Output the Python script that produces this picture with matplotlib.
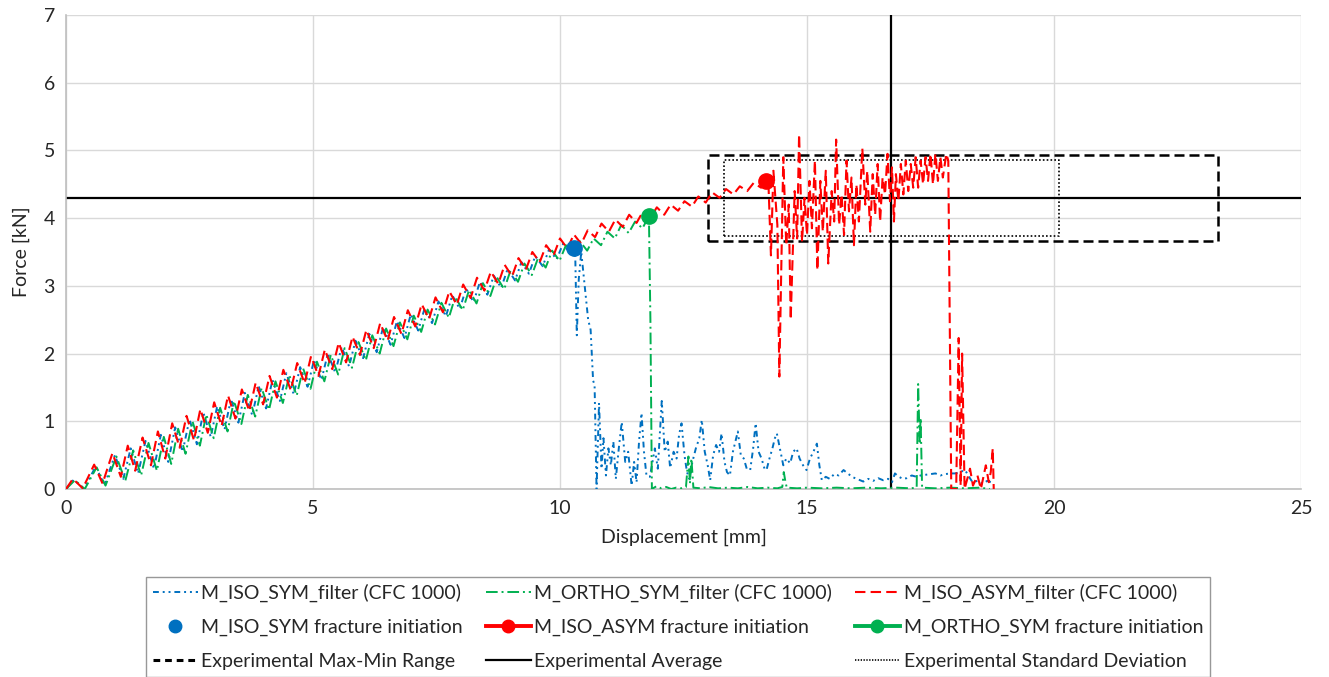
import matplotlib
matplotlib.use("Agg")
import matplotlib.pyplot as plt
import numpy as np

plt.rcParams['font.family'] = ['Lato', 'DejaVu Sans']

# filtered force-displacement traces (displacement mm, force kN)
iso_sym = [
    (0.00, 0.00), (0.16, 0.14), (0.36, 0.00), (0.60, 0.33), (0.78, 0.06), (0.99, 0.50),
    (1.16, 0.15), (1.31, 0.60), (1.46, 0.23), (1.61, 0.71), (1.78, 0.30), (1.92, 0.80),
    (2.07, 0.40), (2.21, 0.91), (2.36, 0.55), (2.50, 1.03), (2.65, 0.66), (2.78, 1.13),
    (2.93, 0.77), (3.06, 1.22), (3.21, 0.88), (3.34, 1.33), (3.49, 0.98), (3.62, 1.42),
    (3.77, 1.09), (3.90, 1.52), (4.05, 1.19), (4.18, 1.61), (4.33, 1.30), (4.46, 1.71),
    (4.61, 1.40), (4.74, 1.80), (4.89, 1.51), (5.02, 1.90), (5.17, 1.61), (5.30, 2.00),
    (5.45, 1.72), (5.58, 2.10), (5.73, 1.81), (5.86, 2.19), (6.01, 1.92), (6.14, 2.29),
    (6.29, 2.02), (6.42, 2.39), (6.57, 2.13), (6.70, 2.48), (6.85, 2.23), (6.98, 2.58),
    (7.13, 2.34), (7.26, 2.67), (7.41, 2.45), (7.54, 2.77), (7.69, 2.55), (7.82, 2.86),
    (7.97, 2.66), (8.10, 2.96), (8.25, 2.76), (8.38, 3.06), (8.53, 2.87), (8.66, 3.15),
    (8.81, 2.97), (8.94, 3.25), (9.09, 3.08), (9.22, 3.35), (9.37, 3.18), (9.50, 3.44),
    (9.65, 3.29), (9.78, 3.54), (9.93, 3.39), (10.06, 3.62), (10.21, 3.47), (10.28, 3.56),
    (10.31, 3.40), (10.34, 2.27), (10.38, 3.10), (10.43, 3.50), (10.50, 3.00), (10.57, 2.50),
    (10.62, 2.35), (10.67, 1.60), (10.70, 1.54), (10.74, 0.00), (10.79, 1.27), (10.84, 0.30),
    (10.88, 0.75), (10.93, 0.20), (10.98, 0.60), (11.03, 0.35), (11.08, 0.70), (11.13, 0.15),
    (11.19, 0.60), (11.25, 0.99), (11.32, 0.40), (11.38, 0.55), (11.45, 0.05), (11.50, 0.40),
    (11.55, 0.10), (11.60, 0.70), (11.65, 1.12), (11.70, 0.55), (11.75, 0.20), (11.82, 0.18),
    (11.92, 0.60), (11.98, 0.30), (12.06, 1.30), (12.12, 0.55), (12.18, 0.70), (12.23, 0.31),
    (12.30, 0.55), (12.36, 0.45), (12.41, 0.80), (12.46, 0.97), (12.52, 0.50), (12.57, 0.25),
    (12.62, 0.15), (12.68, 0.40), (12.75, 0.60), (12.82, 0.75), (12.87, 1.02), (12.93, 0.55),
    (12.99, 0.35), (13.04, 0.13), (13.10, 0.50), (13.16, 0.65), (13.22, 0.55), (13.27, 0.82),
    (13.33, 0.40), (13.38, 0.25), (13.44, 0.20), (13.50, 0.55), (13.55, 0.70), (13.60, 0.85),
    (13.66, 0.50), (13.72, 0.45), (13.78, 0.30), (13.85, 0.28), (13.91, 0.60), (13.96, 0.97),
    (14.02, 0.55), (14.08, 0.45), (14.14, 0.30), (14.18, 0.28), (14.24, 0.45), (14.30, 0.60),
    (14.35, 0.75), (14.39, 0.82), (14.45, 0.60), (14.52, 0.35), (14.58, 0.45), (14.66, 0.38),
    (14.72, 0.55), (14.79, 0.60), (14.85, 0.45), (14.92, 0.35), (14.99, 0.28), (15.06, 0.45),
    (15.13, 0.55), (15.20, 0.67), (15.25, 0.35), (15.30, 0.13), (15.38, 0.18), (15.46, 0.15),
    (15.55, 0.22), (15.64, 0.20), (15.74, 0.28), (15.84, 0.22), (15.94, 0.17), (16.04, 0.14),
    (16.14, 0.11), (16.24, 0.15), (16.34, 0.12), (16.44, 0.16), (16.54, 0.13), (16.64, 0.15),
    (16.72, 0.10), (16.78, 0.23), (16.86, 0.18), (16.94, 0.15), (17.02, 0.16), (17.12, 0.20),
    (17.22, 0.18), (17.30, 0.20), (17.40, 0.21), (17.50, 0.22), (17.60, 0.23), (17.70, 0.20),
    (17.80, 0.22), (17.90, 0.23), (18.00, 0.23), (18.10, 0.25), (18.20, 0.28), (18.28, 0.18),
    (18.35, 0.10), (18.45, 0.12), (18.55, 0.08), (18.65, 0.12), (18.72, 0.10),
]

ortho_sym = [
    (0.00, 0.00), (0.18, 0.13), (0.38, 0.00), (0.62, 0.32), (0.80, 0.05), (1.02, 0.48),
    (1.20, 0.12), (1.36, 0.57), (1.52, 0.20), (1.67, 0.68), (1.84, 0.27), (1.98, 0.77),
    (2.13, 0.37), (2.27, 0.89), (2.42, 0.52), (2.56, 1.00), (2.71, 0.64), (2.84, 1.10),
    (2.99, 0.75), (3.12, 1.20), (3.27, 0.85), (3.40, 1.30), (3.55, 0.96), (3.68, 1.39),
    (3.83, 1.07), (3.96, 1.49), (4.11, 1.17), (4.24, 1.59), (4.39, 1.27), (4.52, 1.68),
    (4.67, 1.38), (4.80, 1.78), (4.95, 1.48), (5.08, 1.88), (5.23, 1.59), (5.36, 1.98),
    (5.51, 1.69), (5.64, 2.08), (5.79, 1.79), (5.92, 2.17), (6.07, 1.90), (6.20, 2.27),
    (6.35, 2.00), (6.48, 2.37), (6.63, 2.11), (6.76, 2.46), (6.91, 2.21), (7.04, 2.56),
    (7.19, 2.32), (7.32, 2.65), (7.47, 2.43), (7.60, 2.75), (7.75, 2.53), (7.88, 2.84),
    (8.03, 2.64), (8.16, 2.94), (8.31, 2.74), (8.44, 3.04), (8.59, 2.85), (8.72, 3.13),
    (8.87, 2.95), (9.00, 3.23), (9.15, 3.06), (9.28, 3.33), (9.43, 3.16), (9.56, 3.42),
    (9.71, 3.27), (9.84, 3.52), (9.99, 3.37), (10.12, 3.60), (10.27, 3.45), (10.40, 3.66),
    (10.55, 3.52), (10.68, 3.70), (10.83, 3.60), (10.96, 3.80), (11.11, 3.70), (11.24, 3.90),
    (11.39, 3.78), (11.52, 3.95), (11.67, 3.85), (11.80, 4.03), (11.83, 2.50), (11.86, 0.00),
    (11.95, 0.04), (12.05, 0.01), (12.15, 0.03), (12.25, 0.00), (12.35, 0.02), (12.45, 0.01),
    (12.55, 0.03), (12.60, 0.48), (12.63, 0.08), (12.66, 0.45), (12.70, 0.02), (12.85, 0.01),
    (13.00, 0.03), (13.20, 0.01), (13.40, 0.02), (13.60, 0.01), (13.80, 0.03), (14.00, 0.01),
    (14.20, 0.02), (14.40, 0.01), (14.50, 0.03), (14.53, 0.25), (14.56, 0.12), (14.59, 0.02),
    (14.80, 0.01), (15.00, 0.02), (15.30, 0.01), (15.60, 0.02), (15.90, 0.01), (16.20, 0.02),
    (16.50, 0.01), (16.80, 0.02), (17.10, 0.01), (17.22, 0.02), (17.25, 1.55), (17.28, 0.70),
    (17.30, 1.05), (17.33, 0.02), (17.60, 0.01), (17.90, 0.02), (18.20, 0.01), (18.50, 0.02),
    (18.70, 0.00),
]

iso_asym = [
    (0.00, 0.00), (0.14, 0.15), (0.34, 0.01), (0.57, 0.36), (0.74, 0.08), (0.94, 0.53),
    (1.11, 0.18), (1.25, 0.64), (1.40, 0.27), (1.55, 0.76), (1.72, 0.35), (1.86, 0.85),
    (2.01, 0.45), (2.15, 0.97), (2.30, 0.61), (2.44, 1.08), (2.59, 0.72), (2.72, 1.18),
    (2.87, 0.83), (3.00, 1.28), (3.15, 0.93), (3.28, 1.38), (3.43, 1.04), (3.56, 1.47),
    (3.71, 1.15), (3.84, 1.57), (3.99, 1.25), (4.12, 1.67), (4.27, 1.35), (4.40, 1.76),
    (4.55, 1.46), (4.68, 1.86), (4.83, 1.56), (4.96, 1.96), (5.11, 1.67), (5.24, 2.06),
    (5.39, 1.77), (5.52, 2.16), (5.67, 1.87), (5.80, 2.25), (5.95, 1.98), (6.08, 2.35),
    (6.23, 2.08), (6.36, 2.45), (6.51, 2.19), (6.64, 2.54), (6.79, 2.29), (6.92, 2.64),
    (7.07, 2.40), (7.20, 2.73), (7.35, 2.51), (7.48, 2.83), (7.63, 2.61), (7.76, 2.92),
    (7.91, 2.72), (8.04, 3.02), (8.19, 2.82), (8.32, 3.12), (8.47, 2.93), (8.60, 3.21),
    (8.75, 3.03), (8.88, 3.31), (9.03, 3.14), (9.16, 3.41), (9.31, 3.24), (9.44, 3.50),
    (9.59, 3.35), (9.72, 3.60), (9.87, 3.45), (10.00, 3.70), (10.15, 3.55), (10.28, 3.76),
    (10.43, 3.62), (10.56, 3.82), (10.71, 3.72), (10.84, 3.92), (10.99, 3.80), (11.12, 3.98),
    (11.27, 3.87), (11.40, 4.05), (11.55, 3.93), (11.68, 4.10), (11.83, 4.00), (11.96, 4.16),
    (12.11, 4.05), (12.24, 4.20), (12.39, 4.11), (12.52, 4.25), (12.67, 4.17), (12.80, 4.32),
    (12.95, 4.23), (13.08, 4.38), (13.23, 4.30), (13.36, 4.43), (13.51, 4.35), (13.64, 4.47),
    (13.79, 4.40), (13.92, 4.52), (14.07, 4.45), (14.17, 4.55), (14.22, 4.50), (14.27, 3.45),
    (14.32, 4.70), (14.40, 3.90), (14.44, 1.66), (14.52, 4.90), (14.58, 3.60), (14.63, 4.20),
    (14.67, 2.50), (14.75, 4.40), (14.80, 3.70), (14.84, 5.24), (14.90, 3.65), (14.95, 4.30),
    (15.00, 3.75), (15.05, 4.55), (15.10, 3.85), (15.16, 4.85), (15.21, 3.23), (15.27, 4.55),
    (15.32, 3.80), (15.38, 4.70), (15.43, 3.33), (15.50, 4.40), (15.55, 3.95), (15.59, 5.16),
    (15.65, 3.90), (15.70, 4.35), (15.75, 3.75), (15.80, 4.85), (15.85, 4.10), (15.90, 4.60),
    (15.95, 3.60), (16.00, 4.50), (16.05, 3.95), (16.12, 5.03), (16.18, 4.20), (16.22, 4.70),
    (16.28, 3.80), (16.33, 4.65), (16.38, 4.05), (16.43, 4.80), (16.48, 3.95), (16.53, 4.60),
    (16.58, 4.35), (16.63, 4.95), (16.68, 4.25), (16.72, 4.75), (16.76, 3.95), (16.80, 4.65),
    (16.85, 4.25), (16.90, 4.80), (16.95, 4.35), (17.00, 4.85), (17.05, 4.40), (17.10, 4.80),
    (17.15, 4.45), (17.20, 4.90), (17.25, 4.45), (17.30, 4.85), (17.35, 4.50), (17.40, 4.90),
    (17.45, 4.55), (17.50, 4.95), (17.55, 4.50), (17.60, 4.95), (17.65, 4.55), (17.70, 4.90),
    (17.75, 4.60), (17.82, 4.95), (17.86, 4.85), (17.92, 0.00), (18.02, 0.00), (18.07, 2.23),
    (18.11, 0.05), (18.14, 2.00), (18.19, 0.00), (18.30, 0.30), (18.36, 0.05), (18.45, 0.20),
    (18.52, 0.00), (18.62, 0.35), (18.68, 0.10), (18.72, 0.25), (18.76, 0.60), (18.78, 0.00),
]

# fracture initiation points
iso_sym_frac = (10.28, 3.56)
iso_asym_frac = (14.17, 4.55)
ortho_sym_frac = (11.80, 4.03)

# experimental reference values
exp_avg_disp = 16.70
exp_avg_force = 4.30
exp_range_disp = (13.00, 23.32)
exp_range_force = (3.66, 4.93)
exp_std_disp = (13.32, 20.10)
exp_std_force = (3.74, 4.86)

BLUE = '#0070C0'
GREEN = '#00B050'
RED = '#FF0000'
TXT = '#262626'
FS = 14

fig = plt.figure(figsize=(13.29, 6.77), dpi=100)
ax = fig.add_axes([66 / 1329, 1 - 489 / 677, (1301 - 66) / 1329, (489 - 15) / 677])


def box(xr, yr):
    return ([xr[0], xr[1], xr[1], xr[0], xr[0]], [yr[0], yr[0], yr[1], yr[1], yr[0]])


x, y = np.array(iso_sym).T
h_iso = ax.plot(x, y, color=BLUE, lw=1.4, dashes=(3, 2, 1, 2, 1, 2), zorder=3)[0]
x, y = np.array(ortho_sym).T
h_ortho = ax.plot(x, y, color=GREEN, lw=1.4, dashes=(6, 2, 1, 2), zorder=3)[0]
x, y = np.array(iso_asym).T
h_asym = ax.plot(x, y, color=RED, lw=1.5, dashes=(5, 2.5), zorder=4)[0]

bx, by = box(exp_range_disp, exp_range_force)
h_range = ax.plot(bx, by, color='black', lw=1.8, dashes=(4, 2), zorder=2)[0]
h_avg = ax.axhline(exp_avg_force, color='black', lw=1.6, zorder=2)
ax.axvline(exp_avg_disp, color='black', lw=1.6, zorder=2)
bx, by = box(exp_std_disp, exp_std_force)
h_std = ax.plot(bx, by, color='black', lw=1.2, dashes=(1, 1.3), zorder=2)[0]

ax.plot(*iso_sym_frac, 'o', color=BLUE, ms=11, zorder=6)
ax.plot(*iso_asym_frac, 'o', color=RED, ms=11, zorder=6)
ax.plot(*ortho_sym_frac, 'o', color=GREEN, ms=11, zorder=6)

# legend-only handles with a line through the marker
leg_asym_f = plt.Line2D([], [], color=RED, lw=2.8, marker='o', ms=9)
leg_ortho_f = plt.Line2D([], [], color=GREEN, lw=2.8, marker='o', ms=9)
leg_iso_f = plt.Line2D([], [], color=BLUE, lw=0, marker='o', ms=9)
leg_range = plt.Line2D([], [], color='black', lw=2.2, dashes=(2.2, 1.6))
leg_std = plt.Line2D([], [], color='black', lw=1.2, dashes=(0.8, 0.9))

ax.set_xlim(0, 25)
ax.set_ylim(0, 7)
ax.set_xticks([0, 5, 10, 15, 20, 25])
ax.set_yticks(range(8))
ax.grid(True, color='#d9d9d9', lw=1)
ax.set_axisbelow(True)
ax.tick_params(length=0, labelsize=FS, colors=TXT, pad=8)
for side in ('top', 'right'):
    ax.spines[side].set_visible(False)
for side in ('left', 'bottom'):
    ax.spines[side].set_color('#bfbfbf')
    ax.spines[side].set_linewidth(1.2)
ax.set_xlabel('Displacement [mm]', fontsize=FS, color=TXT, labelpad=8)
ax.set_ylabel('Force [kN]', fontsize=FS, color=TXT, labelpad=10)

handles = [h_iso, leg_iso_f, leg_range,
           h_ortho, leg_asym_f, h_avg,
           h_asym, leg_ortho_f, leg_std]
labels = ['M_ISO_SYM_filter (CFC 1000)', 'M_ISO_SYM fracture initiation',
          'Experimental Max-Min Range',
          'M_ORTHO_SYM_filter (CFC 1000)', 'M_ISO_ASYM fracture initiation',
          'Experimental Average',
          'M_ISO_ASYM_filter (CFC 1000)', 'M_ORTHO_SYM fracture initiation',
          'Experimental Standard Deviation']
leg = fig.legend(handles, labels, ncol=3, loc='upper left',
                 bbox_to_anchor=(146 / 1329, 1 - 577 / 677, (1210 - 146) / 1329, 0),
                 mode='expand', fontsize=FS, frameon=True, fancybox=False,
                 edgecolor='#7f7f7f', handlelength=2.3, handletextpad=0.2,
                 labelspacing=0.86, borderpad=0.35, borderaxespad=0)
leg.get_frame().set_linewidth(1.0)
for t in leg.get_texts():
    t.set_color(TXT)

fig.savefig('out.png', dpi=100)
